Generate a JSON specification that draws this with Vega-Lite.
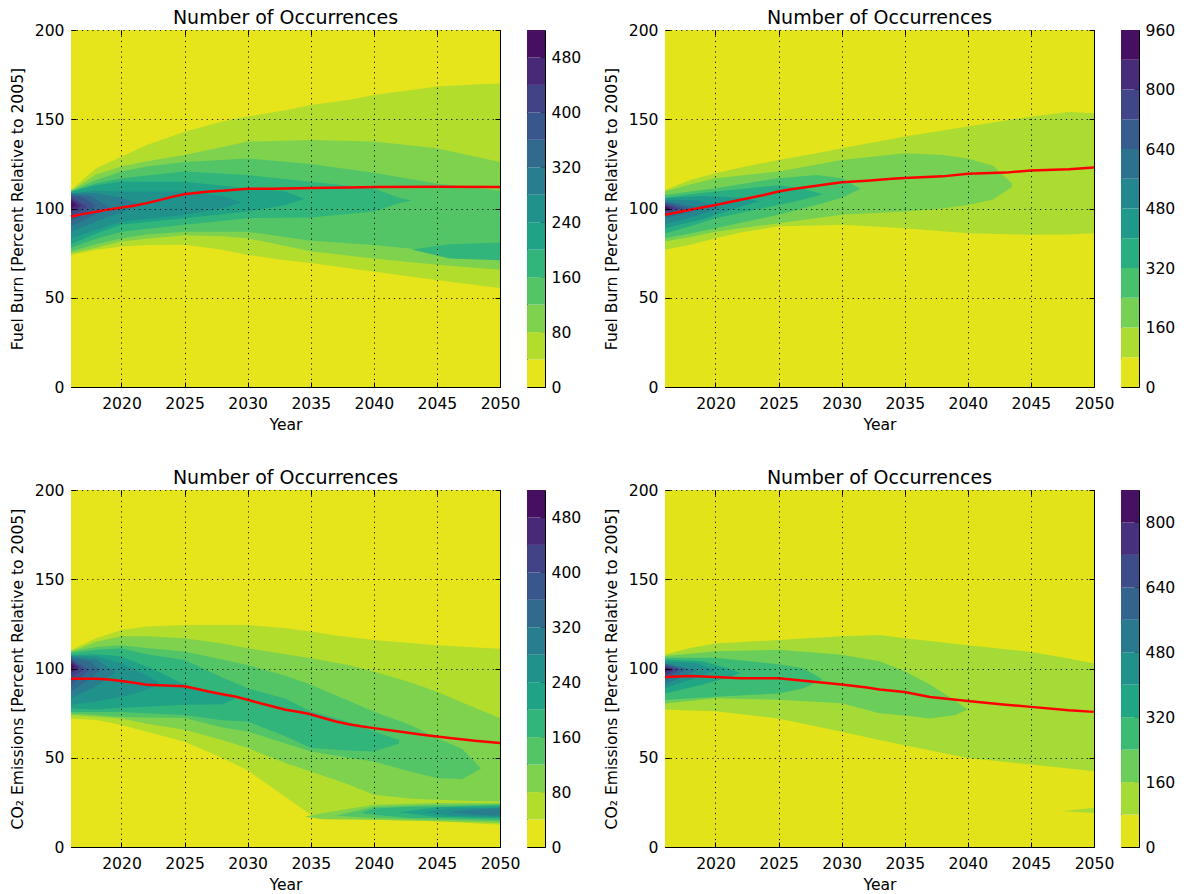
{
"$schema": "https://vega.github.io/schema/vega-lite/v6.json",
"padding": {"left": 9, "top": 8, "right": 0, "bottom": 0},
"config": {
  "font": "DejaVu Sans",
  "view": {"stroke": "#000", "strokeWidth": 1},
  "axis": {"labelFont": "DejaVu Sans", "labelFontSize": 15.6, "labelColor": "#000", "titleFont": "DejaVu Sans", "titleFontSize": 15.6, "titleFontWeight": "normal", "titleColor": "#000", "gridColor": "#000", "gridDash": [1.2, 4], "gridWidth": 1, "gridOpacity": 0.9, "labelFlush": false, "labelOverlap": false, "tickColor": "#000", "tickWidth": 1},
  "title": {"font": "DejaVu Sans", "fontSize": 19, "fontWeight": "normal", "color": "#000", "offset": -5}
},
"datasets": {
  "tl": [
    {"s":"0","lv":0,"year":2016,"lo":0,"hi":200},{"s":"0","lv":0,"year":2050,"lo":0,"hi":200},
    {"s":"1","lv":40,"year":2016,"lo":74,"hi":110.4},{"s":"1","lv":40,"year":2018,"lo":76.9,"hi":122.6},{"s":"1","lv":40,"year":2020,"lo":78.7,"hi":129},{"s":"1","lv":40,"year":2022,"lo":79.5,"hi":135.6},{"s":"1","lv":40,"year":2025,"lo":79.7,"hi":143},{"s":"1","lv":40,"year":2028,"lo":76.9,"hi":148.7},{"s":"1","lv":40,"year":2030,"lo":74,"hi":151.5},{"s":"1","lv":40,"year":2033,"lo":71,"hi":155},{"s":"1","lv":40,"year":2035,"lo":69.4,"hi":158},{"s":"1","lv":40,"year":2038,"lo":66.5,"hi":160.8},{"s":"1","lv":40,"year":2040,"lo":64.7,"hi":163.6},{"s":"1","lv":40,"year":2043,"lo":61.8,"hi":166.4},{"s":"1","lv":40,"year":2045,"lo":60,"hi":168.3},{"s":"1","lv":40,"year":2048,"lo":57.2,"hi":169.5},{"s":"1","lv":40,"year":2050,"lo":55.4,"hi":170},
    {"s":"2","lv":80,"year":2016,"lo":75,"hi":110},{"s":"2","lv":80,"year":2018,"lo":78,"hi":119},{"s":"2","lv":80,"year":2020,"lo":81.5,"hi":123.5},{"s":"2","lv":80,"year":2022,"lo":83,"hi":126.5},{"s":"2","lv":80,"year":2025,"lo":85,"hi":130},{"s":"2","lv":80,"year":2028,"lo":84.5,"hi":134.5},{"s":"2","lv":80,"year":2030,"lo":83.4,"hi":137.5},{"s":"2","lv":80,"year":2035,"lo":76,"hi":138.4},{"s":"2","lv":80,"year":2040,"lo":72,"hi":137.5},{"s":"2","lv":80,"year":2045,"lo":68.5,"hi":133.8},{"s":"2","lv":80,"year":2050,"lo":65.7,"hi":126},
    {"s":"3","lv":120,"year":2016,"lo":76,"hi":110},{"s":"3","lv":120,"year":2018,"lo":80,"hi":116},{"s":"3","lv":120,"year":2020,"lo":83.4,"hi":120.7},{"s":"3","lv":120,"year":2022,"lo":85.5,"hi":123.5},{"s":"3","lv":120,"year":2025,"lo":87,"hi":126},{"s":"3","lv":120,"year":2030,"lo":87,"hi":128},{"s":"3","lv":120,"year":2035,"lo":82,"hi":125},{"s":"3","lv":120,"year":2040,"lo":79.5,"hi":120},{"s":"3","lv":120,"year":2045,"lo":76,"hi":114},{"s":"3","lv":120,"year":2050,"lo":72.2,"hi":110},
    {"s":"4","lv":160,"year":2016,"lo":78,"hi":109.5},{"s":"4","lv":160,"year":2018,"lo":83,"hi":114},{"s":"4","lv":160,"year":2020,"lo":87,"hi":117},{"s":"4","lv":160,"year":2025,"lo":90.9,"hi":120.7},{"s":"4","lv":160,"year":2030,"lo":94.6,"hi":118.8},{"s":"4","lv":160,"year":2035,"lo":95,"hi":115},{"s":"4","lv":160,"year":2040,"lo":98.3,"hi":111.4},{"s":"4","lv":160,"year":2042,"lo":103,"hi":106},{"s":"4","lv":160,"year":2043,"lo":104.5,"hi":104.5},
    {"s":"4b","lv":160,"year":2043,"lo":77,"hi":77},{"s":"4b","lv":160,"year":2046,"lo":72,"hi":80},{"s":"4b","lv":160,"year":2050,"lo":71,"hi":81},
    {"s":"5","lv":200,"year":2016,"lo":80,"hi":109.5},{"s":"5","lv":200,"year":2018,"lo":86,"hi":113},{"s":"5","lv":200,"year":2020,"lo":91,"hi":115},{"s":"5","lv":200,"year":2025,"lo":94.6,"hi":115},{"s":"5","lv":200,"year":2030,"lo":98.3,"hi":111.4},{"s":"5","lv":200,"year":2033,"lo":102,"hi":109.5},{"s":"5","lv":200,"year":2034.5,"lo":105.5,"hi":105.5},
    {"s":"6","lv":240,"year":2016,"lo":83.4,"hi":108.6},{"s":"6","lv":240,"year":2018,"lo":88,"hi":110},{"s":"6","lv":240,"year":2020,"lo":92.7,"hi":109.5},{"s":"6","lv":240,"year":2025,"lo":96.5,"hi":109.5},{"s":"6","lv":240,"year":2028,"lo":100,"hi":107},{"s":"6","lv":240,"year":2029.5,"lo":103.5,"hi":103.5},
    {"s":"7","lv":280,"year":2016,"lo":87,"hi":108.5},{"s":"7","lv":280,"year":2018,"lo":92.7,"hi":108.6},{"s":"7","lv":280,"year":2020,"lo":98,"hi":106},{"s":"7","lv":280,"year":2021.5,"lo":102,"hi":102},
    {"s":"8","lv":320,"year":2016,"lo":90,"hi":108},{"s":"8","lv":320,"year":2017.5,"lo":95,"hi":107},{"s":"8","lv":320,"year":2019,"lo":101,"hi":101},
    {"s":"9","lv":360,"year":2016,"lo":93,"hi":107.5},{"s":"9","lv":360,"year":2017,"lo":97,"hi":106},{"s":"9","lv":360,"year":2018,"lo":101.5,"hi":101.5},
    {"s":"10","lv":400,"year":2016,"lo":95.5,"hi":106.7},{"s":"10","lv":400,"year":2017.3,"lo":101,"hi":101},
    {"s":"11","lv":440,"year":2016,"lo":98,"hi":105.5},{"s":"11","lv":440,"year":2016.8,"lo":101.5,"hi":101.5},
    {"s":"12","lv":480,"year":2016,"lo":100,"hi":104},{"s":"12","lv":480,"year":2016.4,"lo":102,"hi":102}
  ],
  "tr": [
    {"s":"0","lv":0,"year":2016,"lo":0,"hi":200},{"s":"0","lv":0,"year":2050,"lo":0,"hi":200},
    {"s":"1","lv":80,"year":2016,"lo":76.9,"hi":110.4},{"s":"1","lv":80,"year":2018,"lo":79.7,"hi":116},{"s":"1","lv":80,"year":2020,"lo":83.4,"hi":119.8},{"s":"1","lv":80,"year":2022,"lo":86.5,"hi":123},{"s":"1","lv":80,"year":2025,"lo":90,"hi":127.2},{"s":"1","lv":80,"year":2028,"lo":90.5,"hi":131},{"s":"1","lv":80,"year":2030,"lo":90.9,"hi":133.8},{"s":"1","lv":80,"year":2035,"lo":89,"hi":140.3},{"s":"1","lv":80,"year":2040,"lo":86.2,"hi":145.9},{"s":"1","lv":80,"year":2045,"lo":85.3,"hi":151.5},{"s":"1","lv":80,"year":2048,"lo":85.5,"hi":154},{"s":"1","lv":80,"year":2050,"lo":86.2,"hi":153.4},
    {"s":"2","lv":160,"year":2016,"lo":81.5,"hi":109.5},{"s":"2","lv":160,"year":2018,"lo":84,"hi":113.5},{"s":"2","lv":160,"year":2020,"lo":87,"hi":117},{"s":"2","lv":160,"year":2025,"lo":91.8,"hi":120.7},{"s":"2","lv":160,"year":2030,"lo":96.5,"hi":127.2},{"s":"2","lv":160,"year":2035,"lo":98.3,"hi":131},{"s":"2","lv":160,"year":2038,"lo":100,"hi":130},{"s":"2","lv":160,"year":2040,"lo":102,"hi":128},{"s":"2","lv":160,"year":2042,"lo":105,"hi":124},{"s":"2","lv":160,"year":2043.5,"lo":112,"hi":114},
    {"s":"3","lv":240,"year":2016,"lo":83.4,"hi":107.6},{"s":"3","lv":240,"year":2018,"lo":86,"hi":109.5},{"s":"3","lv":240,"year":2020,"lo":89,"hi":111.4},{"s":"3","lv":240,"year":2025,"lo":96.5,"hi":117},{"s":"3","lv":240,"year":2028,"lo":102,"hi":118.8},{"s":"3","lv":240,"year":2030,"lo":106,"hi":117},{"s":"3","lv":240,"year":2031.5,"lo":111,"hi":111},
    {"s":"4","lv":320,"year":2016,"lo":86,"hi":106},{"s":"4","lv":320,"year":2018,"lo":90,"hi":108},{"s":"4","lv":320,"year":2020,"lo":94.6,"hi":109.5},{"s":"4","lv":320,"year":2025,"lo":102,"hi":113},{"s":"4","lv":320,"year":2027,"lo":105,"hi":111},{"s":"4","lv":320,"year":2028.5,"lo":108,"hi":108},
    {"s":"5","lv":400,"year":2016,"lo":89,"hi":105.8},{"s":"5","lv":400,"year":2019,"lo":94,"hi":107},{"s":"5","lv":400,"year":2022,"lo":101,"hi":106},{"s":"5","lv":400,"year":2023.5,"lo":104,"hi":104},
    {"s":"6","lv":480,"year":2016,"lo":91,"hi":104.8},{"s":"6","lv":480,"year":2018.5,"lo":96,"hi":104.5},{"s":"6","lv":480,"year":2020.5,"lo":100.5,"hi":100.5},
    {"s":"7","lv":560,"year":2016,"lo":94.6,"hi":104},{"s":"7","lv":560,"year":2019,"lo":100,"hi":100},
    {"s":"8","lv":640,"year":2016,"lo":96,"hi":103.5},{"s":"8","lv":640,"year":2018,"lo":100,"hi":100},
    {"s":"9","lv":720,"year":2016,"lo":97.6,"hi":102.6},{"s":"9","lv":720,"year":2017.3,"lo":100,"hi":100},
    {"s":"10","lv":800,"year":2016,"lo":98.5,"hi":102},{"s":"10","lv":800,"year":2016.8,"lo":100.2,"hi":100.2},
    {"s":"11","lv":880,"year":2016,"lo":99.2,"hi":101.2},{"s":"11","lv":880,"year":2016.4,"lo":100.2,"hi":100.2}
  ],
  "bl": [
    {"s":"0","lv":0,"year":2016,"lo":0,"hi":200},{"s":"0","lv":0,"year":2050,"lo":0,"hi":200},
    {"s":"1","lv":40,"year":2016,"lo":72,"hi":110.4},{"s":"1","lv":40,"year":2018,"lo":71.1,"hi":117},{"s":"1","lv":40,"year":2020,"lo":68.3,"hi":121.6},{"s":"1","lv":40,"year":2022,"lo":64.5,"hi":123.5},{"s":"1","lv":40,"year":2025,"lo":59,"hi":124.4},{"s":"1","lv":40,"year":2028,"lo":49.8,"hi":124.4},{"s":"1","lv":40,"year":2030,"lo":43,"hi":124.4},{"s":"1","lv":40,"year":2033,"lo":28,"hi":122.6},{"s":"1","lv":40,"year":2035,"lo":18,"hi":120.7},{"s":"1","lv":40,"year":2037,"lo":16,"hi":118.5},{"s":"1","lv":40,"year":2040,"lo":15.3,"hi":116},{"s":"1","lv":40,"year":2045,"lo":14.4,"hi":113},{"s":"1","lv":40,"year":2050,"lo":12.5,"hi":111},
    {"s":"2","lv":80,"year":2016,"lo":74,"hi":109.5},{"s":"2","lv":80,"year":2018,"lo":73,"hi":115},{"s":"2","lv":80,"year":2020,"lo":72,"hi":118},{"s":"2","lv":80,"year":2022,"lo":69,"hi":118},{"s":"2","lv":80,"year":2025,"lo":65.7,"hi":117},{"s":"2","lv":80,"year":2028,"lo":60,"hi":114},{"s":"2","lv":80,"year":2030,"lo":55.4,"hi":111.4},{"s":"2","lv":80,"year":2033,"lo":47,"hi":108},{"s":"2","lv":80,"year":2035,"lo":42.3,"hi":105.8},{"s":"2","lv":80,"year":2038,"lo":35,"hi":102},{"s":"2","lv":80,"year":2040,"lo":29.3,"hi":98.3},{"s":"2","lv":80,"year":2043,"lo":27,"hi":92},{"s":"2","lv":80,"year":2045,"lo":26.5,"hi":87},{"s":"2","lv":80,"year":2048,"lo":25.8,"hi":78},{"s":"2","lv":80,"year":2050,"lo":25.6,"hi":72.2},
    {"s":"2b","lv":80,"year":2034.5,"lo":17,"hi":17},{"s":"2b","lv":80,"year":2036,"lo":15.5,"hi":19},{"s":"2b","lv":80,"year":2040,"lo":15.3,"hi":23.7},{"s":"2b","lv":80,"year":2045,"lo":14.4,"hi":24.6},{"s":"2b","lv":80,"year":2050,"lo":13.4,"hi":24.6},
    {"s":"3","lv":120,"year":2016,"lo":74.8,"hi":109.5},{"s":"3","lv":120,"year":2018,"lo":74,"hi":112},{"s":"3","lv":120,"year":2020,"lo":72.8,"hi":113},{"s":"3","lv":120,"year":2022,"lo":72.5,"hi":111.5},{"s":"3","lv":120,"year":2025,"lo":72.2,"hi":109.5},{"s":"3","lv":120,"year":2028,"lo":67,"hi":105},{"s":"3","lv":120,"year":2030,"lo":64.7,"hi":102},{"s":"3","lv":120,"year":2033,"lo":58,"hi":96},{"s":"3","lv":120,"year":2035,"lo":53.5,"hi":90.9},{"s":"3","lv":120,"year":2038,"lo":50,"hi":82},{"s":"3","lv":120,"year":2040,"lo":47.9,"hi":75.9},{"s":"3","lv":120,"year":2043,"lo":42,"hi":68},{"s":"3","lv":120,"year":2045,"lo":38.6,"hi":61},{"s":"3","lv":120,"year":2047,"lo":38,"hi":55},{"s":"3","lv":120,"year":2048.5,"lo":44,"hi":44},
    {"s":"3b","lv":120,"year":2037,"lo":17.5,"hi":17.5},{"s":"3b","lv":120,"year":2040,"lo":16.2,"hi":22.6},{"s":"3b","lv":120,"year":2045,"lo":15.3,"hi":23.7},{"s":"3b","lv":120,"year":2050,"lo":14.4,"hi":24},
    {"s":"4","lv":160,"year":2016,"lo":75.7,"hi":108.6},{"s":"4","lv":160,"year":2018,"lo":75.7,"hi":110.5},{"s":"4","lv":160,"year":2020,"lo":75.7,"hi":111.4},{"s":"4","lv":160,"year":2022,"lo":75,"hi":108},{"s":"4","lv":160,"year":2025,"lo":74,"hi":104.8},{"s":"4","lv":160,"year":2028,"lo":71,"hi":95},{"s":"4","lv":160,"year":2030,"lo":70.3,"hi":89},{"s":"4","lv":160,"year":2033,"lo":62,"hi":83},{"s":"4","lv":160,"year":2035,"lo":55.4,"hi":76},{"s":"4","lv":160,"year":2038,"lo":54,"hi":70},{"s":"4","lv":160,"year":2040,"lo":53.5,"hi":64.7},{"s":"4","lv":160,"year":2042,"lo":58,"hi":60},
    {"s":"4b","lv":160,"year":2039,"lo":19,"hi":19},{"s":"4b","lv":160,"year":2040,"lo":18,"hi":21.5},{"s":"4b","lv":160,"year":2043,"lo":16.2,"hi":22.6},{"s":"4b","lv":160,"year":2045,"lo":16.2,"hi":22.6},{"s":"4b","lv":160,"year":2050,"lo":15.3,"hi":23.7},
    {"s":"5","lv":200,"year":2016,"lo":77.6,"hi":107.6},{"s":"5","lv":200,"year":2018,"lo":77,"hi":108},{"s":"5","lv":200,"year":2020,"lo":78,"hi":106.7},{"s":"5","lv":200,"year":2023,"lo":79,"hi":98},{"s":"5","lv":200,"year":2025,"lo":79.7,"hi":90.9},{"s":"5","lv":200,"year":2028,"lo":80,"hi":86},{"s":"5","lv":200,"year":2029,"lo":83,"hi":83},
    {"s":"5b","lv":200,"year":2042,"lo":19.5,"hi":19.5},{"s":"5b","lv":200,"year":2045,"lo":16.8,"hi":22.2},{"s":"5b","lv":200,"year":2050,"lo":16.2,"hi":22.8},
    {"s":"6","lv":240,"year":2016,"lo":79.7,"hi":107},{"s":"6","lv":240,"year":2018,"lo":81.5,"hi":106.7},{"s":"6","lv":240,"year":2020,"lo":84,"hi":103},{"s":"6","lv":240,"year":2022,"lo":88,"hi":96},{"s":"6","lv":240,"year":2023,"lo":92,"hi":92},
    {"s":"6b","lv":240,"year":2044,"lo":19.5,"hi":19.5},{"s":"6b","lv":240,"year":2046,"lo":17.5,"hi":21.5},{"s":"6b","lv":240,"year":2050,"lo":16.8,"hi":22},
    {"s":"7","lv":280,"year":2016,"lo":83.4,"hi":106.7},{"s":"7","lv":280,"year":2018,"lo":90,"hi":105},{"s":"7","lv":280,"year":2019.5,"lo":98,"hi":98},
    {"s":"7b","lv":280,"year":2046,"lo":19.5,"hi":19.5},{"s":"7b","lv":280,"year":2048,"lo":18,"hi":21},{"s":"7b","lv":280,"year":2050,"lo":17.5,"hi":21.5},
    {"s":"8","lv":320,"year":2016,"lo":87,"hi":106},{"s":"8","lv":320,"year":2017.5,"lo":94,"hi":104},{"s":"8","lv":320,"year":2018.3,"lo":99,"hi":99},
    {"s":"9","lv":360,"year":2016,"lo":91,"hi":105.5},{"s":"9","lv":360,"year":2017.5,"lo":99,"hi":99},
    {"s":"10","lv":400,"year":2016,"lo":94.6,"hi":104.8},{"s":"10","lv":400,"year":2017,"lo":99.5,"hi":99.5},
    {"s":"11","lv":440,"year":2016,"lo":97,"hi":104},{"s":"11","lv":440,"year":2016.6,"lo":100.5,"hi":100.5},
    {"s":"12","lv":480,"year":2016,"lo":99,"hi":103},{"s":"12","lv":480,"year":2016.3,"lo":101,"hi":101}
  ],
  "br": [
    {"s":"0","lv":0,"year":2016,"lo":0,"hi":200},{"s":"0","lv":0,"year":2050,"lo":0,"hi":200},
    {"s":"1","lv":80,"year":2016,"lo":77,"hi":107.8},{"s":"1","lv":80,"year":2018,"lo":76.5,"hi":111.5},{"s":"1","lv":80,"year":2020,"lo":76,"hi":114},{"s":"1","lv":80,"year":2025,"lo":72,"hi":116},{"s":"1","lv":80,"year":2030,"lo":64.5,"hi":118},{"s":"1","lv":80,"year":2033,"lo":60,"hi":118.7},{"s":"1","lv":80,"year":2035,"lo":57,"hi":117},{"s":"1","lv":80,"year":2040,"lo":49.9,"hi":113},{"s":"1","lv":80,"year":2045,"lo":46.2,"hi":109.3},{"s":"1","lv":80,"year":2048,"lo":44,"hi":105.6},{"s":"1","lv":80,"year":2050,"lo":42.5,"hi":102.8},
    {"s":"1b","lv":80,"year":2047.5,"lo":20,"hi":20},{"s":"1b","lv":80,"year":2050,"lo":19,"hi":22},
    {"s":"2","lv":160,"year":2016,"lo":80.4,"hi":107},{"s":"2","lv":160,"year":2020,"lo":83.3,"hi":109.6},{"s":"2","lv":160,"year":2025,"lo":82.5,"hi":110.5},{"s":"2","lv":160,"year":2030,"lo":80.5,"hi":107.7},{"s":"2","lv":160,"year":2033,"lo":74.9,"hi":104},{"s":"2","lv":160,"year":2035,"lo":73.6,"hi":98.4},{"s":"2","lv":160,"year":2037,"lo":72,"hi":91},{"s":"2","lv":160,"year":2039,"lo":74,"hi":82},{"s":"2","lv":160,"year":2040,"lo":77,"hi":77},
    {"s":"3","lv":240,"year":2016,"lo":82.4,"hi":106},{"s":"3","lv":240,"year":2020,"lo":84.2,"hi":106},{"s":"3","lv":240,"year":2025,"lo":86,"hi":102.4},{"s":"3","lv":240,"year":2027,"lo":89,"hi":100},{"s":"3","lv":240,"year":2028.5,"lo":94,"hi":94},
    {"s":"4","lv":320,"year":2016,"lo":86,"hi":105},{"s":"4","lv":320,"year":2019,"lo":91,"hi":104},{"s":"4","lv":320,"year":2021,"lo":95,"hi":100},{"s":"4","lv":320,"year":2022,"lo":97.5,"hi":97.5},
    {"s":"5","lv":400,"year":2016,"lo":89,"hi":104},{"s":"5","lv":400,"year":2018.5,"lo":95,"hi":103},{"s":"5","lv":400,"year":2020,"lo":99,"hi":99},
    {"s":"6","lv":480,"year":2016,"lo":91,"hi":103},{"s":"6","lv":480,"year":2018.5,"lo":99,"hi":99},
    {"s":"7","lv":560,"year":2016,"lo":93,"hi":102.5},{"s":"7","lv":560,"year":2017.7,"lo":99.5,"hi":99.5},
    {"s":"8","lv":640,"year":2016,"lo":95,"hi":101.8},{"s":"8","lv":640,"year":2017.2,"lo":99.5,"hi":99.5},
    {"s":"9","lv":720,"year":2016,"lo":96.5,"hi":101.2},{"s":"9","lv":720,"year":2016.8,"lo":99.5,"hi":99.5},
    {"s":"10","lv":800,"year":2016,"lo":98,"hi":100.5},{"s":"10","lv":800,"year":2016.4,"lo":99.5,"hi":99.5}
  ],
  "tlm": [{"year":2016,"v":95.5},{"year":2017,"v":97},{"year":2018,"v":98.2},{"year":2019,"v":99.5},{"year":2020,"v":100.6},{"year":2021,"v":101.5},{"year":2022,"v":103},{"year":2023,"v":104.7},{"year":2024,"v":106.5},{"year":2025,"v":108},{"year":2026,"v":108.8},{"year":2027,"v":109.5},{"year":2028,"v":110},{"year":2029,"v":110.5},{"year":2030,"v":111},{"year":2032,"v":111.1},{"year":2035,"v":111.5},{"year":2038,"v":111.7},{"year":2040,"v":112},{"year":2045,"v":112.2},{"year":2050,"v":112}],
  "trm": [{"year":2016,"v":96.5},{"year":2018,"v":99.3},{"year":2020,"v":102},{"year":2022,"v":104.9},{"year":2024,"v":107.8},{"year":2025,"v":109.5},{"year":2026,"v":110.8},{"year":2028,"v":112.7},{"year":2030,"v":114.7},{"year":2032,"v":115.6},{"year":2034,"v":116.6},{"year":2035,"v":117.1},{"year":2038,"v":118},{"year":2040,"v":119.4},{"year":2043,"v":120.1},{"year":2045,"v":121.3},{"year":2048,"v":122},{"year":2050,"v":123}],
  "blm": [{"year":2016,"v":94.2},{"year":2018,"v":94.2},{"year":2019,"v":93.8},{"year":2020,"v":93},{"year":2021,"v":92},{"year":2022,"v":90.9},{"year":2024,"v":90.4},{"year":2025,"v":90},{"year":2026,"v":88.5},{"year":2027,"v":87},{"year":2028,"v":85.6},{"year":2029,"v":84.3},{"year":2030,"v":82.5},{"year":2031,"v":80.5},{"year":2032,"v":78.7},{"year":2033,"v":76.9},{"year":2034,"v":75.8},{"year":2035,"v":74.4},{"year":2036,"v":72.3},{"year":2037,"v":70.3},{"year":2038,"v":68.8},{"year":2039,"v":67.6},{"year":2040,"v":66.6},{"year":2042,"v":64.7},{"year":2044,"v":62.8},{"year":2045,"v":61.9},{"year":2046,"v":61.1},{"year":2048,"v":59.5},{"year":2050,"v":58.2}],
  "brm": [{"year":2016,"v":95.2},{"year":2018,"v":95.8},{"year":2020,"v":95.2},{"year":2022,"v":94.6},{"year":2025,"v":94.6},{"year":2026,"v":93.8},{"year":2028,"v":92.4},{"year":2030,"v":91.1},{"year":2032,"v":89.3},{"year":2033,"v":88.3},{"year":2035,"v":86.8},{"year":2037,"v":84},{"year":2040,"v":81.8},{"year":2043,"v":79.7},{"year":2045,"v":78.5},{"year":2048,"v":76.6},{"year":2050,"v":75.7}],
  "cb13": [{"lv":0,"hi":40},{"lv":40,"hi":80},{"lv":80,"hi":120},{"lv":120,"hi":160},{"lv":160,"hi":200},{"lv":200,"hi":240},{"lv":240,"hi":280},{"lv":280,"hi":320},{"lv":320,"hi":360},{"lv":360,"hi":400},{"lv":400,"hi":440},{"lv":440,"hi":480},{"lv":480,"hi":520}],
  "cb12": [{"lv":0,"hi":80},{"lv":80,"hi":160},{"lv":160,"hi":240},{"lv":240,"hi":320},{"lv":320,"hi":400},{"lv":400,"hi":480},{"lv":480,"hi":560},{"lv":560,"hi":640},{"lv":640,"hi":720},{"lv":720,"hi":800},{"lv":800,"hi":880},{"lv":880,"hi":960}],
  "cb11": [{"lv":0,"hi":80},{"lv":80,"hi":160},{"lv":160,"hi":240},{"lv":240,"hi":320},{"lv":320,"hi":400},{"lv":400,"hi":480},{"lv":480,"hi":560},{"lv":560,"hi":640},{"lv":640,"hi":720},{"lv":720,"hi":800},{"lv":800,"hi":880}]
},
"vconcat": [
  {"hconcat": [
    {"hconcat": [
      {"width": 429, "height": 357, "title": {"text": "Number of Occurrences", "frame": "group"},
       "resolve": {"axis": {"x": "independent", "y": "independent"}},
       "layer": [
        {"data": {"name": "tl"}, "mark": {"type": "area", "interpolate": "linear"},
         "encoding": {
          "x": {"field": "year", "type": "quantitative", "scale": {"domain": [2016, 2050], "nice": false, "zero": false}, "axis": {"orient": "bottom", "values": [2020,2025,2030,2035,2040,2045,2050], "format": "d", "title": "Year", "grid": true, "ticks": true, "tickSize": -5, "domain": false, "labelPadding": 14, "titlePadding": 6, "zindex": 1}},
          "y": {"field": "lo", "type": "quantitative", "scale": {"domain": [0, 200], "nice": false}, "axis": {"orient": "left", "values": [0,50,100,150,200], "title": "Fuel Burn [Percent Relative to 2005]", "grid": true, "ticks": true, "tickSize": -5, "domain": false, "labelPadding": 12, "titlePadding": 9, "zindex": 1}},
          "y2": {"field": "hi"},
          "color": {"field": "lv", "type": "quantitative", "scale": {"type": "threshold", "domain": [40,80,120,160,200,240,280,320,360,400,440,480], "range": ["#e6e41b","#b2dd2d","#7fd24e","#54c567","#31b57b","#20a286","#21918c","#287e8e","#306b8e","#39578c","#424286","#472978","#460f61"]}, "legend": null},
          "detail": {"field": "s"}
         }},
        {"data": {"name": "tlm"}, "mark": {"type": "line", "color": "#ff0000", "strokeWidth": 2.5},
         "encoding": {"x": {"field": "year", "type": "quantitative", "axis": {"orient": "top", "values": [2020,2025,2030,2035,2040,2045,2050], "labels": false, "title": null, "grid": false, "domain": false, "ticks": true, "tickSize": -5, "zindex": 1}}, "y": {"field": "v", "type": "quantitative", "axis": {"orient": "right", "values": [0,50,100,150,200], "labels": false, "title": null, "grid": false, "domain": false, "ticks": true, "tickSize": -5, "zindex": 1}}}}
       ]},
      {"width": 18, "height": 357, "data": {"name": "cb13"}, "mark": "rect",
       "encoding": {
        "y": {"field": "lv", "type": "quantitative", "scale": {"domain": [0, 520], "nice": false}, "axis": {"orient": "right", "values": [0,80,160,240,320,400,480], "title": null, "grid": false, "domain": false, "tickSize": -5, "labelPadding": 11}},
        "y2": {"field": "hi"},
        "color": {"field": "lv", "type": "quantitative", "scale": {"type": "threshold", "domain": [40,80,120,160,200,240,280,320,360,400,440,480], "range": ["#e6e41b","#b2dd2d","#7fd24e","#54c567","#31b57b","#20a286","#21918c","#287e8e","#306b8e","#39578c","#424286","#472978","#460f61"]}, "legend": null}
       }}
    ], "bounds": "flush", "spacing": 27},
    {"hconcat": [
      {"width": 429, "height": 357, "title": {"text": "Number of Occurrences", "frame": "group"},
       "resolve": {"axis": {"x": "independent", "y": "independent"}},
       "layer": [
        {"data": {"name": "tr"}, "mark": {"type": "area", "interpolate": "linear"},
         "encoding": {
          "x": {"field": "year", "type": "quantitative", "scale": {"domain": [2016, 2050], "nice": false, "zero": false}, "axis": {"orient": "bottom", "values": [2020,2025,2030,2035,2040,2045,2050], "format": "d", "title": "Year", "grid": true, "ticks": true, "tickSize": -5, "domain": false, "labelPadding": 14, "titlePadding": 6, "zindex": 1}},
          "y": {"field": "lo", "type": "quantitative", "scale": {"domain": [0, 200], "nice": false}, "axis": {"orient": "left", "values": [0,50,100,150,200], "title": "Fuel Burn [Percent Relative to 2005]", "grid": true, "ticks": true, "tickSize": -5, "domain": false, "labelPadding": 12, "titlePadding": 9, "zindex": 1}},
          "y2": {"field": "hi"},
          "color": {"field": "lv", "type": "quantitative", "scale": {"type": "threshold", "domain": [80,160,240,320,400,480,560,640,720,800,880], "range": ["#e4e41a","#acdc31","#75d054","#48c16e","#28ae80","#1f9a8a","#24868e","#2c728e","#365d8d","#404688","#472c7a","#470f62"]}, "legend": null},
          "detail": {"field": "s"}
         }},
        {"data": {"name": "trm"}, "mark": {"type": "line", "color": "#ff0000", "strokeWidth": 2.5},
         "encoding": {"x": {"field": "year", "type": "quantitative", "axis": {"orient": "top", "values": [2020,2025,2030,2035,2040,2045,2050], "labels": false, "title": null, "grid": false, "domain": false, "ticks": true, "tickSize": -5, "zindex": 1}}, "y": {"field": "v", "type": "quantitative", "axis": {"orient": "right", "values": [0,50,100,150,200], "labels": false, "title": null, "grid": false, "domain": false, "ticks": true, "tickSize": -5, "zindex": 1}}}}
       ]},
      {"width": 18, "height": 357, "data": {"name": "cb12"}, "mark": "rect",
       "encoding": {
        "y": {"field": "lv", "type": "quantitative", "scale": {"domain": [0, 960], "nice": false}, "axis": {"orient": "right", "values": [0,160,320,480,640,800,960], "title": null, "grid": false, "domain": false, "tickSize": -5, "labelPadding": 11}},
        "y2": {"field": "hi"},
        "color": {"field": "lv", "type": "quantitative", "scale": {"type": "threshold", "domain": [80,160,240,320,400,480,560,640,720,800,880], "range": ["#e4e41a","#acdc31","#75d054","#48c16e","#28ae80","#1f9a8a","#24868e","#2c728e","#365d8d","#404688","#472c7a","#470f62"]}, "legend": null}
       }}
    ], "bounds": "flush", "spacing": 27}
  ], "spacing": 21, "resolve": {"scale": {"color": "independent"}}},
  {"hconcat": [
    {"hconcat": [
      {"width": 429, "height": 357, "title": {"text": "Number of Occurrences", "frame": "group"},
       "resolve": {"axis": {"x": "independent", "y": "independent"}},
       "layer": [
        {"data": {"name": "bl"}, "mark": {"type": "area", "interpolate": "linear"},
         "encoding": {
          "x": {"field": "year", "type": "quantitative", "scale": {"domain": [2016, 2050], "nice": false, "zero": false}, "axis": {"orient": "bottom", "values": [2020,2025,2030,2035,2040,2045,2050], "format": "d", "title": "Year", "grid": true, "ticks": true, "tickSize": -5, "domain": false, "labelPadding": 14, "titlePadding": 6, "zindex": 1}},
          "y": {"field": "lo", "type": "quantitative", "scale": {"domain": [0, 200], "nice": false}, "axis": {"orient": "left", "values": [0,50,100,150,200], "title": "CO₂ Emissions [Percent Relative to 2005]", "grid": true, "ticks": true, "tickSize": -5, "domain": false, "labelPadding": 12, "titlePadding": 9, "zindex": 1}},
          "y2": {"field": "hi"},
          "color": {"field": "lv", "type": "quantitative", "scale": {"type": "threshold", "domain": [40,80,120,160,200,240,280,320,360,400,440,480], "range": ["#e6e41b","#b2dd2d","#7fd24e","#54c567","#31b57b","#20a286","#21918c","#287e8e","#306b8e","#39578c","#424286","#472978","#460f61"]}, "legend": null},
          "detail": {"field": "s"}
         }},
        {"data": {"name": "blm"}, "mark": {"type": "line", "color": "#ff0000", "strokeWidth": 2.5},
         "encoding": {"x": {"field": "year", "type": "quantitative", "axis": {"orient": "top", "values": [2020,2025,2030,2035,2040,2045,2050], "labels": false, "title": null, "grid": false, "domain": false, "ticks": true, "tickSize": -5, "zindex": 1}}, "y": {"field": "v", "type": "quantitative", "axis": {"orient": "right", "values": [0,50,100,150,200], "labels": false, "title": null, "grid": false, "domain": false, "ticks": true, "tickSize": -5, "zindex": 1}}}}
       ]},
      {"width": 18, "height": 357, "data": {"name": "cb13"}, "mark": "rect",
       "encoding": {
        "y": {"field": "lv", "type": "quantitative", "scale": {"domain": [0, 520], "nice": false}, "axis": {"orient": "right", "values": [0,80,160,240,320,400,480], "title": null, "grid": false, "domain": false, "tickSize": -5, "labelPadding": 11}},
        "y2": {"field": "hi"},
        "color": {"field": "lv", "type": "quantitative", "scale": {"type": "threshold", "domain": [40,80,120,160,200,240,280,320,360,400,440,480], "range": ["#e6e41b","#b2dd2d","#7fd24e","#54c567","#31b57b","#20a286","#21918c","#287e8e","#306b8e","#39578c","#424286","#472978","#460f61"]}, "legend": null}
       }}
    ], "bounds": "flush", "spacing": 27},
    {"hconcat": [
      {"width": 429, "height": 357, "title": {"text": "Number of Occurrences", "frame": "group"},
       "resolve": {"axis": {"x": "independent", "y": "independent"}},
       "layer": [
        {"data": {"name": "br"}, "mark": {"type": "area", "interpolate": "linear"},
         "encoding": {
          "x": {"field": "year", "type": "quantitative", "scale": {"domain": [2016, 2050], "nice": false, "zero": false}, "axis": {"orient": "bottom", "values": [2020,2025,2030,2035,2040,2045,2050], "format": "d", "title": "Year", "grid": true, "ticks": true, "tickSize": -5, "domain": false, "labelPadding": 14, "titlePadding": 6, "zindex": 1}},
          "y": {"field": "lo", "type": "quantitative", "scale": {"domain": [0, 200], "nice": false}, "axis": {"orient": "left", "values": [0,50,100,150,200], "title": "CO₂ Emissions [Percent Relative to 2005]", "grid": true, "ticks": true, "tickSize": -5, "domain": false, "labelPadding": 12, "titlePadding": 9, "zindex": 1}},
          "y2": {"field": "hi"},
          "color": {"field": "lv", "type": "quantitative", "scale": {"type": "threshold", "domain": [80,160,240,320,400,480,560,640,720,800], "range": ["#e2e319","#a4db36","#6bcd5a","#3cbb74","#21a685","#21918c","#297a8e","#33648d","#3e4c89","#47307d","#471163"]}, "legend": null},
          "detail": {"field": "s"}
         }},
        {"data": {"name": "brm"}, "mark": {"type": "line", "color": "#ff0000", "strokeWidth": 2.5},
         "encoding": {"x": {"field": "year", "type": "quantitative", "axis": {"orient": "top", "values": [2020,2025,2030,2035,2040,2045,2050], "labels": false, "title": null, "grid": false, "domain": false, "ticks": true, "tickSize": -5, "zindex": 1}}, "y": {"field": "v", "type": "quantitative", "axis": {"orient": "right", "values": [0,50,100,150,200], "labels": false, "title": null, "grid": false, "domain": false, "ticks": true, "tickSize": -5, "zindex": 1}}}}
       ]},
      {"width": 18, "height": 357, "data": {"name": "cb11"}, "mark": "rect",
       "encoding": {
        "y": {"field": "lv", "type": "quantitative", "scale": {"domain": [0, 880], "nice": false}, "axis": {"orient": "right", "values": [0,160,320,480,640,800], "title": null, "grid": false, "domain": false, "tickSize": -5, "labelPadding": 11}},
        "y2": {"field": "hi"},
        "color": {"field": "lv", "type": "quantitative", "scale": {"type": "threshold", "domain": [80,160,240,320,400,480,560,640,720,800], "range": ["#e2e319","#a4db36","#6bcd5a","#3cbb74","#21a685","#21918c","#297a8e","#33648d","#3e4c89","#47307d","#471163"]}, "legend": null}
       }}
    ], "bounds": "flush", "spacing": 27}
  ], "spacing": 21, "resolve": {"scale": {"color": "independent"}}}
],
"spacing": 34,
"resolve": {"scale": {"color": "independent"}}
}
